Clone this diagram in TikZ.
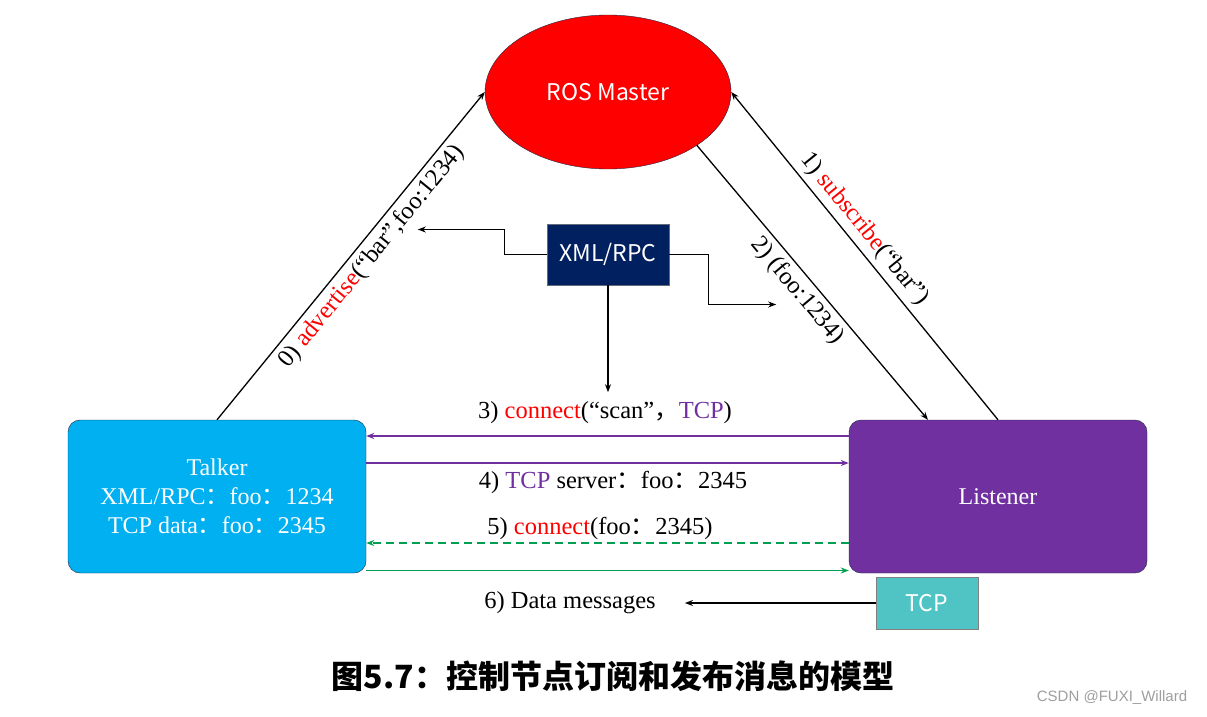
\documentclass[tikz,border=0pt]{standalone}
\usepackage{fontspec}
\setmainfont{Liberation Serif}
\newfontfamily\cjk{Noto Sans CJK SC}
\newfontfamily\wmfont{Liberation Sans}
\usetikzlibrary{arrows.meta, shapes.geometric, positioning}
\definecolor{rosred}{HTML}{FF0000}
\definecolor{talkblue}{HTML}{00B0F0}
\definecolor{listpurple}{HTML}{7030A0}
\definecolor{rpcnavy}{HTML}{002060}
\definecolor{tcpteal}{HTML}{50C4C4}
\definecolor{msggreen}{HTML}{00A050}
\definecolor{edgedark}{HTML}{1F2A44}
\newcommand{\fcolon}{{\cjk ：}}
\newcommand{\fcomma}{{\cjk ，}}
\newcommand{\red}[1]{\textcolor{rosred}{#1}}
\newcommand{\pur}[1]{\textcolor{listpurple}{#1}}

\begin{document}
\begin{tikzpicture}[x=1pt, y=-1pt,
      txt/.style={font=\fontsize{24.5}{30}\selectfont, inner sep=1pt},
      nbox/.style={draw=edgedark, rounded corners=12pt, text=white,
                   minimum width=298pt, minimum height=153pt, align=center,
                   font=\fontsize{24}{29}\selectfont},
      sbox/.style={draw=edgedark!70, text=white, font=\cjk\fontsize{23}{26}\selectfont},
      arr/.style={-{Stealth[length=8pt, width=6pt]}, line width=1.3pt},
      parr/.style={arr, color=listpurple},
      garr/.style={arr, color=msggreen}
    ]
    \fill[white] (0,0) rectangle (1207,717);
    \useasboundingbox (0,0) rectangle (1207,717);

    % nodes
    \node[ellipse, draw=edgedark, fill=rosred, minimum width=246pt, minimum height=154pt,
          text=white, font=\cjk\fontsize{23}{26}\selectfont] (master) at (608,92) {ROS Master};
    \node[nbox, fill=talkblue] (talker) at (217,496.5)
         {Talker\\XML/RPC\fcolon foo\fcolon 1234\\TCP data\fcolon foo\fcolon 2345};
    \node[nbox, fill=listpurple] (listener) at (998,496.5) {Listener};
    \node[sbox, fill=rpcnavy, minimum width=122pt, minimum height=61pt] (xml) at (608,254.5) {XML/RPC};
    \node[sbox, fill=tcpteal, draw=gray, minimum width=102pt, minimum height=52pt] (tcp) at (927,603) {TCP};

    % master links
    \draw[arr] (talker.north) -- (master.west)
        node[txt, sloped, below=4pt, pos=0.53] (adv) {0) \red{advertise}(“bar”,foo:1234)};
    \draw[arr] (listener.north) -- (master.east)
        node[txt, sloped, above=4pt, pos=0.55] (sub) {1) \red{subscribe}(“bar”)};
    \draw[arr] (master.-31) -- ([xshift=-70pt]listener.north)
        node[txt, sloped, below=4pt, pos=0.49] (ret) {2) (foo:1234)};

    % xml/rpc hints
    \draw[arr] (xml.west) -- ++(-42,0) -- ++(0,-25) -- ++(-87,0);
    \draw[arr] (xml.east) -- ++(39,0) -- ++(0,50) -- ++(68,0);
    \draw[arr] (xml.south) -- ++(0,107);

    % talker <-> listener
    \draw[parr] ([yshift=60.5pt]listener.west) -- ([yshift=60.5pt]talker.east);
    \draw[parr] ([yshift=33.5pt]talker.east) -- ([yshift=33.5pt]listener.west);
    \draw[garr, dashed, dash pattern=on 8pt off 5pt] ([yshift=-46.5pt]listener.west) -- ([yshift=-46.5pt]talker.east);
    \draw[garr] ([yshift=-74pt]talker.east) -- ([yshift=-74pt]listener.west);
    \node[txt] (l3) at (605,413) {3) \red{connect}(“scan”\fcomma \pur{TCP})};
    \node[txt] (l4) at (613,482) {4) \pur{TCP} server\fcolon foo\fcolon 2345};
    \node[txt] (l5) at (600,528) {5) \red{connect}(foo\fcolon 2345)};
    \node[txt] (l6) at (570,603) {6) Data messages};
    \draw[arr] (tcp.west) -- ([xshift=28pt]l6.east);

    \node[font=\cjk\bfseries\fontsize{32}{36}\selectfont] (cap) at (613,676) {图5.7：控制节点订阅和发布消息的模型};
    \node[font=\wmfont\fontsize{15}{15}\selectfont, text=gray!75] (wm) at (1112,698) {CSDN @FUXI\_Willard};
  \end{tikzpicture}
\end{document}
